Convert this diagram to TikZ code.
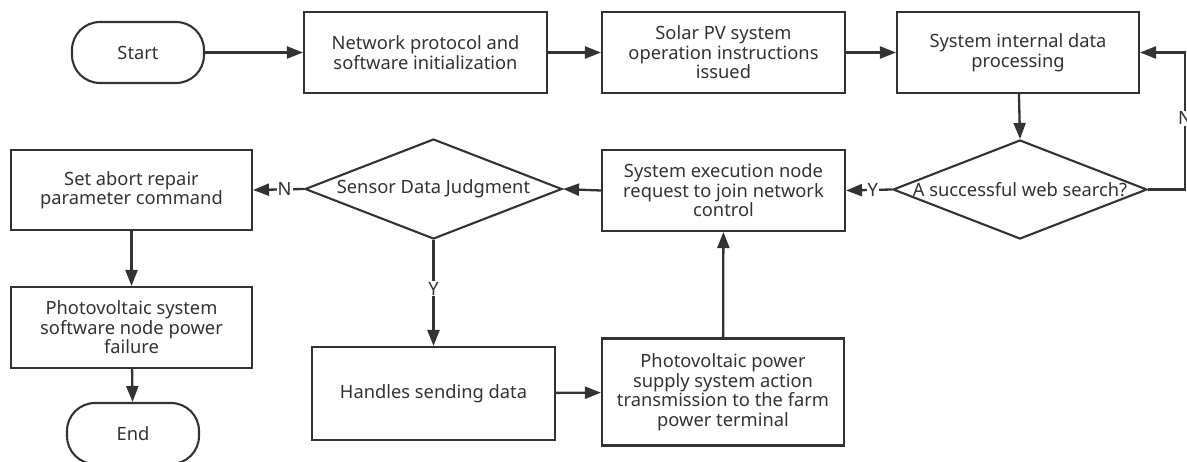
\documentclass[tikz,border=0pt]{standalone}
\usepackage{fontspec}
\setmainfont{Noto Sans}
\usetikzlibrary{arrows.meta,shapes.geometric}
\definecolor{ink}{HTML}{333333}
\begin{document}
\begin{tikzpicture}[x=1pt,y=-1pt,
  base/.style={draw=ink, line width=2.1pt, text=ink, align=center, inner sep=0pt,
    font=\fontsize{18.3}{19.5}\selectfont},
  procbox/.style={base, minimum width=242pt, minimum height=81pt},
  termbox/.style={base, rounded corners=28pt, minimum width=132pt, minimum height=61pt},
  dia/.style={draw=ink, line width=2.1pt, diamond, inner sep=0pt},
  txt/.style={text=ink, align=center, inner sep=0pt, font=\fontsize{18.3}{19.5}\selectfont},
  arr/.style={draw=ink, line width=2.3pt, -{Triangle[length=16pt,width=12pt]}},
  lbl/.style={fill=white, text=ink, inner sep=1pt, font=\fontsize{18.3}{19.5}\selectfont}
]
\useasboundingbox (0,0) rectangle (1187,461);
\fill[white] (0,0) rectangle (1187,461);

\node[termbox] (start) at (138,52.5) {Start};
\node[procbox, minimum width=243pt] (net) at (425.5,52.5) {Network protocol and\\software initialization};
\node[procbox, minimum width=243pt] (solar) at (723.5,52.5) {Solar PV system\\operation instructions\\issued};
\node[procbox] (sint) at (1018,52.5) {System internal data\\processing};

\node[dia, minimum width=254pt, minimum height=99pt] (web) at (1020,189.5) {};
\node[txt] (webt) at (web.center) {A successful web search?};

\node[procbox, minimum width=243pt] (sexec) at (723.5,190.5) {System execution node\\request to join network\\control};

\node[dia, minimum width=257pt, minimum height=100pt] (sens) at (433.5,189) {};
\node[txt] (senst) at (sens.center) {Sensor Data Judgment};

\node[procbox, minimum width=241pt, minimum height=80pt] (setab) at (131.5,190) {Set abort repair\\parameter command};
\node[procbox, minimum width=241pt] (pvsys) at (131.5,327.5) {Photovoltaic system\\software node power\\failure};
\node[termbox] (endn) at (133,433.5) {End};

\node[procbox, minimum width=243pt, minimum height=93pt] (hand) at (433.5,393.5) {Handles sending data};
\node[procbox, minimum height=107pt] (pvpow) at (723,392) {Photovoltaic power\\supply system action\\transmission to the farm\\power terminal};

\coordinate (n1) at (1185,189.5);
\coordinate (n2) at (1185,52.5);

\draw[arr] (start) -- (net);
\draw[arr] (net) -- (solar);
\draw[arr] (solar) -- (sint);
\draw[arr] (sint) -- (web.north);
\draw[arr] (web.east) -- (n1) -- node[lbl, pos=0.52] {N} (n2) -- (sint.east);
\draw[arr] (web.west) -- node[lbl, pos=0.42] {Y} (sexec.east);
\draw[arr] (sexec.west) -- (sens.east);
\draw[arr] (sens.west) -- node[lbl, pos=0.38] {N} (setab.east);
\draw[arr] (sens.south) -- node[lbl, pos=0.46] {Y} (hand.north);
\draw[arr] (setab) -- (pvsys);
\draw[arr] (pvsys) -- (endn);
\draw[arr] (hand) -- (pvpow);
\draw[arr] (pvpow) -- (sexec);
\end{tikzpicture}
\end{document}
